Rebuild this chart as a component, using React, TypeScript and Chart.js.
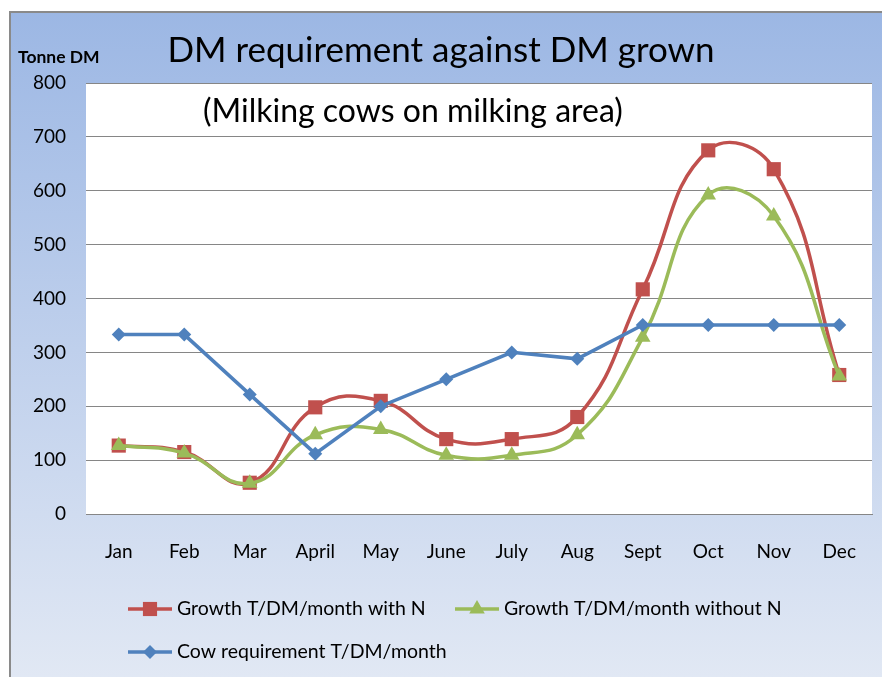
import React, { useEffect, useRef } from "react";
import { Chart, registerables } from "chart.js";

Chart.register(...registerables);

const months = ["Jan", "Feb", "Mar", "April", "May", "June", "July", "Aug", "Sept", "Oct", "Nov", "Dec"];
const growthWithN = [127, 115, 58, 198, 210, 139, 139, 180, 417, 675, 640, 258];
const growthWithoutN = [127, 113, 57, 147, 157, 109, 109, 147, 328, 592, 553, 256];
const cowRequirement = [333, 333, 222, 112, 200, 250, 300, 288, 351, 351, 351, 351];
const yMin = 0;
const yMax = 800;
const yStep = 100;

const titleText = "DM requirement against DM grown";
const subtitleText = "(Milking cows on milking area)";
const yAxisTitle = "Tonne DM";
const seriesLabels = ["Growth T/DM/month with N", "Growth T/DM/month without N", "Cow requirement T/DM/month"];

const FONT = "Lato, 'Noto Sans', sans-serif";
const RED = "#c0504d";
const GREEN = "#9bbb59";
const BLUE = "#4f81bd";
const GRID = "#868686";

const decorPlugin = {
  id: "decor",
  beforeDraw(chart: any) {
    const { ctx, width, height, chartArea } = chart;
    ctx.save();
    ctx.fillStyle = "#ffffff";
    ctx.fillRect(0, 0, width, height);
    const g = ctx.createLinearGradient(0, 12, 0, height);
    g.addColorStop(0, "#9cb7e4");
    g.addColorStop(1, "#e1e8f4");
    ctx.fillStyle = g;
    ctx.fillRect(10, 12, width - 10, height - 12);
    ctx.strokeStyle = "#8a8a8a";
    ctx.lineWidth = 2;
    ctx.beginPath();
    ctx.moveTo(10, height);
    ctx.lineTo(10, 12);
    ctx.lineTo(width, 12);
    ctx.stroke();
    ctx.fillStyle = "#ffffff";
    ctx.fillRect(chartArea.left, chartArea.top, chartArea.right - chartArea.left, chartArea.bottom - chartArea.top);
    ctx.restore();
  },
  afterDraw(chart: any) {
    const { ctx } = chart;
    ctx.save();
    ctx.fillStyle = "#000000";
    ctx.textBaseline = "alphabetic";
    // title
    ctx.font = `35px ${FONT}`;
    ctx.textAlign = "center";
    ctx.fillText(titleText, 441, 62);
    // subtitle
    ctx.font = `32px ${FONT}`;
    ctx.textAlign = "left";
    ctx.fillText(subtitleText, 203, 122);
    // y axis title
    ctx.font = `bold 17.5px ${FONT}`;
    ctx.textAlign = "left";
    ctx.fillText(yAxisTitle, 18, 63);

    // legend
    const ds = chart.data.datasets;
    const items = [
      { i: 0, x: 128, y: 609 },
      { i: 1, x: 455, y: 609 },
      { i: 2, x: 128, y: 652 },
    ];
    ctx.font = `19.5px ${FONT}`;
    for (const it of items) {
      const d = ds[it.i];
      ctx.strokeStyle = d.borderColor;
      ctx.lineWidth = 3.5;
      ctx.beginPath();
      ctx.moveTo(it.x, it.y);
      ctx.lineTo(it.x + 44, it.y);
      ctx.stroke();
      ctx.fillStyle = d.backgroundColor;
      const cx = it.x + 22;
      const r = d.pointRadius;
      ctx.beginPath();
      if (d.pointStyle === "rect") {
        const s = r * Math.SQRT1_2;
        ctx.rect(cx - s, it.y - s, 2 * s, 2 * s);
      } else if (d.pointStyle === "triangle") {
        ctx.moveTo(cx, it.y - r);
        ctx.lineTo(cx + r * 0.866, it.y + r * 0.5);
        ctx.lineTo(cx - r * 0.866, it.y + r * 0.5);
        ctx.closePath();
      } else {
        ctx.moveTo(cx, it.y - r);
        ctx.lineTo(cx + r, it.y);
        ctx.lineTo(cx, it.y + r);
        ctx.lineTo(cx - r, it.y);
        ctx.closePath();
      }
      ctx.fill();
      ctx.fillStyle = "#000000";
      ctx.textAlign = "left";
      ctx.textBaseline = "middle";
      ctx.fillText(d.label, it.x + 49, it.y);
    }
    ctx.restore();
  },
};

export default function App() {
  const canvasRef = useRef<HTMLCanvasElement | null>(null);

  useEffect(() => {
    document.body.style.margin = "0";
    const canvas = canvasRef.current;
    if (!canvas) return;
    const chart = new Chart(canvas, {
      type: "line",
      data: {
        labels: months,
        datasets: [
          {
            label: seriesLabels[0],
            data: growthWithN,
            borderColor: RED,
            backgroundColor: RED,
            borderWidth: 3.5,
            pointStyle: "rect",
            pointRadius: 10,
            pointBorderWidth: 0,
            tension: 0.45,
            order: 2,
          },
          {
            label: seriesLabels[1],
            data: growthWithoutN,
            borderColor: GREEN,
            backgroundColor: GREEN,
            borderWidth: 3.5,
            pointStyle: "triangle",
            pointRadius: 9,
            pointBorderWidth: 0,
            tension: 0.45,
            order: 1,
          },
          {
            label: seriesLabels[2],
            data: cowRequirement,
            borderColor: BLUE,
            backgroundColor: BLUE,
            borderWidth: 3.5,
            pointStyle: "rectRot",
            pointRadius: 7,
            pointBorderWidth: 0,
            tension: 0,
            order: 0,
          },
        ],
      },
      options: {
        animation: false,
        responsive: false,
        maintainAspectRatio: false,
        layout: { padding: { top: 83, left: 0, right: 10, bottom: 0 } },
        plugins: {
          legend: { display: false },
          title: { display: false },
          tooltip: { enabled: false },
        },
        scales: {
          x: {
            type: "category",
            offset: true,
            grid: { display: false },
            border: { display: true, color: GRID, width: 1 },
            ticks: { color: "#000", font: { family: FONT, size: 19 }, padding: 18, maxRotation: 0 },
            afterFit(scale: any) {
              scale.height = 163;
            },
          },
          y: {
            min: yMin,
            max: yMax,
            ticks: { stepSize: yStep, color: "#000", font: { family: FONT, size: 19 }, padding: 20 },
            grid: { color: GRID, lineWidth: 1, drawTicks: false },
            border: { display: false },
            afterFit(scale: any) {
              scale.width = 86;
            },
          },
        },
      },
      plugins: [decorPlugin],
    });
    return () => chart.destroy();
  }, []);

  return (
    <div style={{ position: "absolute", left: 0, top: 0, width: 882, height: 677 }}>
      <canvas ref={canvasRef} width={882} height={677} style={{ width: 882, height: 677, display: "block" }} />
    </div>
  );
}
